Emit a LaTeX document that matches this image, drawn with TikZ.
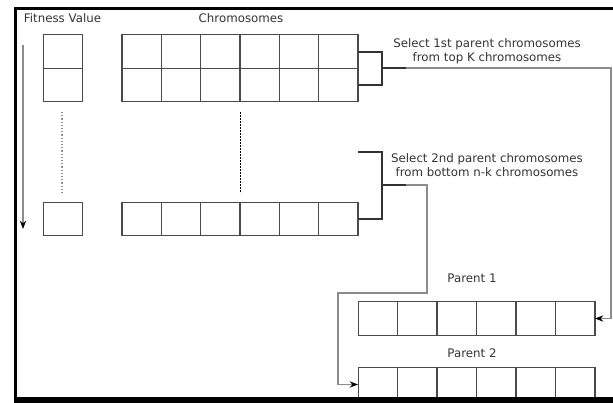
\documentclass[tikz,border=0pt]{standalone}
\usepackage{fontspec}
\setmainfont{DejaVu Sans}
\usetikzlibrary{arrows.meta}

\definecolor{cellgray}{HTML}{4A4A4A}
\definecolor{linkgray}{HTML}{8C8C8C}
\definecolor{textgray}{HTML}{333333}

\begin{document}
\begin{tikzpicture}[x=1pt,y=-1pt,
		bracket/.style={draw=black!80, line width=2pt},
		link/.style={draw=linkgray, line width=1.2pt}]
	\useasboundingbox (0,0) rectangle (613,402);
	\begin{scope}[every node/.style = {rectangle, draw=cellgray, line width=1.1pt,
			minimum width=39.4pt, minimum height=33.5pt, inner sep=0pt, outer sep=0pt}]
		\node (fa) at (63,51.5) {};
		\node (fb) at (63,85) {};
		\node (fz) at (63,219) {};
		\foreach \i in {1,...,6} {
			\node (a\i) at (102.33+39.33*\i,51.5) {};
			\node (b\i) at (102.33+39.33*\i,85) {};
			\node (z\i) at (102.33+39.33*\i,219) {};
			\node (p\i) at (338.25+39.5*\i,318.5) {};
			\node (q\i) at (338.25+39.5*\i,384.5) {};
		}
	\end{scope}
	\begin{scope}[every node/.style = {text=textgray, align=center,
			font=\fontsize{11.8}{13.5}\selectfont}]
		\node (fit) at (62.5,18) {Fitness Value};
		\node (chr) at (241,18) {Chromosomes};
		\node (sel1) at (487,51) {Select 1st parent chromosomes\\from top K chromosomes};
		\node (sel2) at (487,165) {Select 2nd parent chromosomes\\from bottom n-k chromosomes};
		\node (par1) at (472,278) {Parent 1};
		\node (par2) at (472,353) {Parent 2};
	\end{scope}

	% points of the brackets and links
	\coordinate (k1) at (382,68);
	\coordinate (k1out) at (406,68);
	\coordinate (k1edge) at (611,68);
	\coordinate (k2top) at (358,152);
	\coordinate (k2) at (382,185);
	\coordinate (k2out) at (406,185);
	\coordinate (k2turn) at (427,293);
	\coordinate (k2down) at (338,293);
	\coordinate (sortA) at (23,45);
	\coordinate (sortB) at (23,229);
	\coordinate (dotA) at (62,112);
	\coordinate (dotB) at (62,193);
	\coordinate (dashA) at (240,112);
	\coordinate (dashB) at (240,193);

	\draw[bracket] (a6.east) -| (k1) |- (b6.east);
	\draw[bracket] (k1) -- (k1out);
	\draw[bracket] (k2top) -| (k2) |- (z6.east);
	\draw[bracket] (k2) -- (k2out);

	\begin{scope}[>={Stealth[black]}]
		\draw[link, ->] (k1out) -- (k1edge) |- (p6.east);
		\draw[link, ->] (k2out) -| (k2turn) -| (k2down) |- (q1.west);
		\draw[link, ->] (sortA) -- (sortB);
	\end{scope}
	\draw[linkgray, line width=1.2pt, dotted] (dotA) -- (dotB);
	\draw[black, line width=0.8pt, dash pattern=on 2pt off 1pt] (dashA) -- (dashB);

	\draw[line width=3pt] (613,8) -- (15,8) -- (15,399);
	\draw[line width=6pt] (13.5,399.5) -- (613,399.5);
\end{tikzpicture}
\end{document}
